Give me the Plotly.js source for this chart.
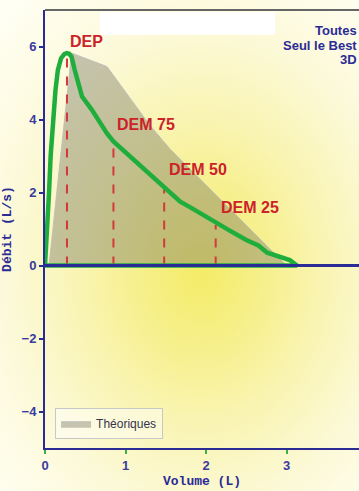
<!DOCTYPE html>
<html>
<head>
<meta charset="utf-8">
<script src="https://cdn.plot.ly/plotly-3.0.1.min.js"></script>
<style>
html,body{margin:0;padding:0;overflow:hidden;background:#fffff6;}
#chart{width:359px;height:491px;
background: radial-gradient(ellipse 78% 72% at 56% 55%, #f4ec66 0%, #f6ef88 20%, #f9f4b0 42%, #fcf9d8 68%, #fffff4 100%);}
</style>
</head>
<body>
<div id="chart"></div>
<script>
// Measured flow-volume curve (green)
const curveVol  = [0, 0.015, 0.025, 0.05, 0.07, 0.10, 0.13, 0.16, 0.20, 0.24, 0.27, 0.30, 0.33, 0.37, 0.42, 0.46, 0.58, 0.71, 0.77, 0.85, 1.0, 1.1, 1.3, 1.47, 1.6, 1.68, 1.8, 1.93, 2.13, 2.3, 2.5, 2.65, 2.76, 2.92, 3.04, 3.13, 0];
const curveFlow = [0, 0.5, 1.2, 2.0, 3.0, 4.07, 4.8, 5.36, 5.68, 5.79, 5.82, 5.8, 5.72, 5.35, 4.9, 4.63, 4.27, 3.81, 3.62, 3.4, 3.1, 2.9, 2.5, 2.16, 1.88, 1.75, 1.6, 1.44, 1.16, 0.95, 0.70, 0.55, 0.35, 0.24, 0.15, 0, 0];

// Theoretical curve (grey area)
const theoVol  = [0.05, 0.33, 0.77, 1.30, 1.55, 2.0, 2.5, 2.92, 3.0, 0.05];
const theoFlow = [0, 5.82, 5.45, 3.85, 3.2, 2.2, 1.1, 0.15, 0, 0];

// Markers
const markerNames = ["DEP", "DEM 75", "DEM 50", "DEM 25"];
const markerVol   = [0.273, 0.85, 1.48, 2.12];
const markerFlow  = [5.72, 3.4, 2.16, 1.11];
const labelVol    = [0.515, 1.26, 1.9, 2.55];
const labelFlow   = [6.14, 3.85, 2.64, 1.6];

const xTicks = [0, 1, 2, 3];
const yTicks = [-4, -2, 0, 2, 4, 6];
const infoLines = ["Toutes", "Seul le Best", "3D"];

const navy = "#2b2b96";
const red = "#cc2229";

const traces = [
  {x: theoVol, y: theoFlow, type: "scatter", mode: "lines", fill: "toself",
   fillcolor: "rgba(120,118,100,0.42)", line: {color: "rgba(190,190,190,0.9)", width: 1},
   name: "Théoriques", showlegend: true, hoverinfo: "skip"}
];
markerVol.forEach((v, i) => {
  traces.push({x: [v, v], y: [0, markerFlow[i]], type: "scatter", mode: "lines",
    line: {color: "#d23a3a", width: 2, dash: "dash"}, showlegend: false, hoverinfo: "skip"});
});
traces.push({x: curveVol, y: curveFlow, type: "scatter", mode: "lines",
  line: {color: "#1fae3c", width: 4.5}, showlegend: false, hoverinfo: "skip"});

const annotations = markerNames.map((t, i) => ({
  x: labelVol[i], y: labelFlow[i], xref: "x", yref: "y", text: t, showarrow: false,
  font: {family: "Liberation Sans, Arial, sans-serif", size: 16, color: red, weight: "bold"}
}));
infoLines.forEach((t, i) => {
  annotations.push({x: 1, y: 1 - (20 + 15 * i) / 438, xref: "paper", yref: "paper",
    xanchor: "right", yanchor: "middle", text: t, showarrow: false,
    font: {family: "Liberation Sans, Arial, sans-serif", size: 13, color: navy, weight: "bold"}});
});

const layout = {
  width: 359, height: 491,
  margin: {l: 45, r: 0, t: 10, b: 43},
  paper_bgcolor: "rgba(0,0,0,0)", plot_bgcolor: "rgba(0,0,0,0)",
  showlegend: true,
  legend: {x: 0.032, y: 0.02, xanchor: "left", yanchor: "bottom",
    bgcolor: "rgba(255,255,255,0.45)", bordercolor: "#c8c8c8", borderwidth: 1,
    font: {family: "Liberation Sans, Arial, sans-serif", size: 12, color: "#33334d"},
    itemwidth: 30, tracegroupgap: 0},
  xaxis: {range: [0, 3.9], tickvals: xTicks, ticktext: xTicks.map(String),
    showgrid: false, zeroline: false, showline: true, linecolor: navy, linewidth: 2,
    ticks: "outside", ticklen: 4, tickwidth: 2, tickcolor: "#3cb043",
    tickfont: {family: "Liberation Sans, Arial, sans-serif", size: 13, color: "#3a3aa0", weight: "bold"},
    title: {text: "Volume (L)", standoff: 4,
      font: {family: "Liberation Mono, Courier New, monospace", size: 13, color: navy, weight: "bold"}}},
  yaxis: {range: [-5, 7], tickvals: yTicks, ticktext: yTicks.map(v => v < 0 ? "\u2212" + Math.abs(v) : String(v)),
    showgrid: false, zeroline: false, showline: true, linecolor: navy, linewidth: 2,
    ticks: "outside", ticklen: 4, tickwidth: 2, tickcolor: navy,
    tickfont: {family: "Liberation Sans, Arial, sans-serif", size: 13, color: "#3a3aa0", weight: "bold"},
    title: {text: "Débit (L/s)", standoff: 10,
      font: {family: "Liberation Mono, Courier New, monospace", size: 13, color: navy, weight: "bold"}}},
  shapes: [
    {type: "rect", xref: "x", yref: "y", x0: 0.68, x1: 2.86, y0: 6.32, y1: 6.95,
     fillcolor: "#ffffff", line: {width: 0}, layer: "below"},
    {type: "line", xref: "paper", yref: "paper", x0: 0, x1: 1, y0: 1, y1: 1,
     line: {color: "#666666", width: 2}, layer: "above"},
    {type: "line", xref: "paper", yref: "y", x0: 0, x1: 1, y0: 0, y1: 0,
     line: {color: navy, width: 3}, layer: "above"}
  ],
  annotations: annotations
};

Plotly.newPlot("chart", traces, layout, {displayModeBar: false, staticPlot: true});
</script>
</body>
</html>
